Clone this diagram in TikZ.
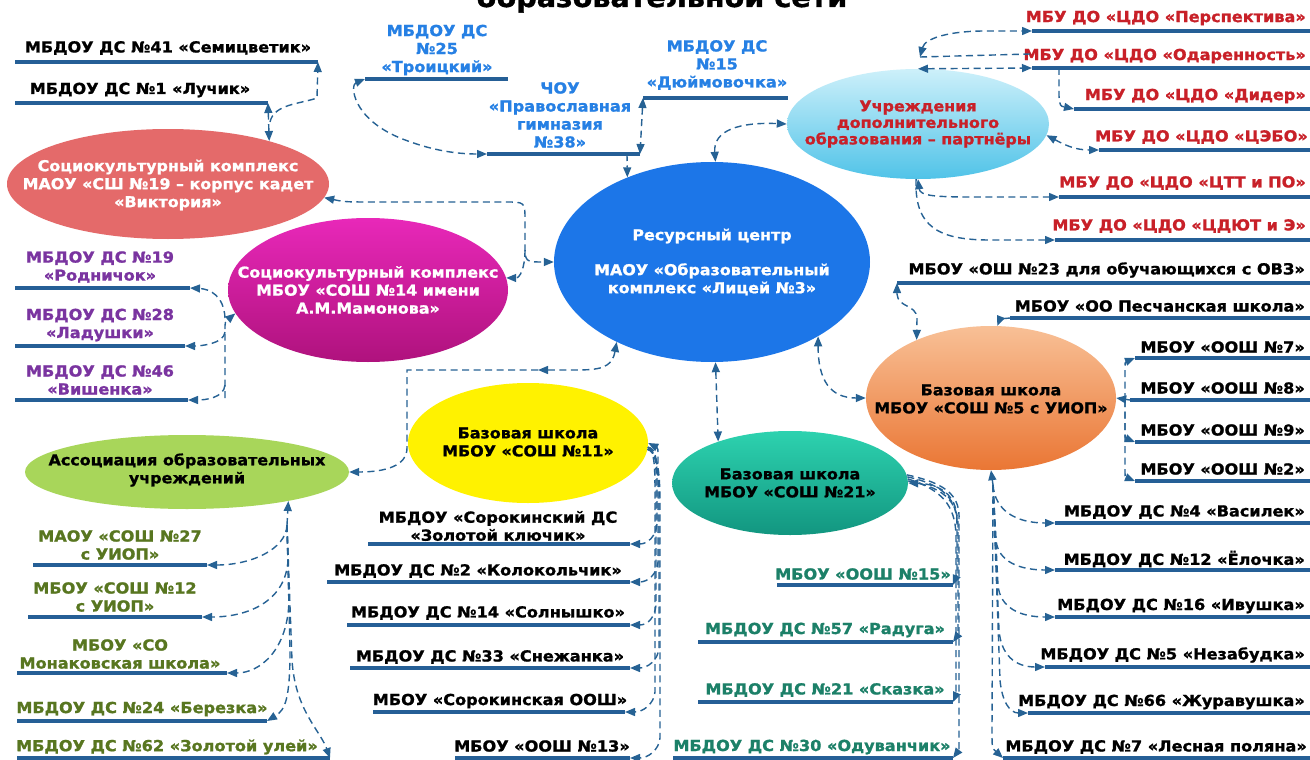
\documentclass[tikz,border=0pt]{standalone}
\usepackage{fontspec}
\newfontfamily\labfont{DejaVu Sans}[FakeStretch=1.06,FakeBold=1.2]
\usetikzlibrary{shapes.geometric,arrows.meta}
\definecolor{cblue}{RGB}{38,98,148}
\definecolor{ulcol}{RGB}{37,95,150}
\definecolor{rcblue}{RGB}{28,118,232}
\definecolor{kadred}{RGB}{228,106,106}
\definecolor{purp}{RGB}{122,52,160}
\definecolor{lblue}{RGB}{38,128,228}
\definecolor{dred}{RGB}{200,32,40}
\definecolor{olive}{RGB}{88,118,32}
\definecolor{tealtx}{RGB}{28,128,104}
\tikzset{
  conn/.style={draw=cblue, line width=1.4pt, dash pattern=on 7pt off 4.5pt},
  >={Triangle[length=10pt,width=8pt]},
  uline/.style={draw=ulcol, line width=3.2pt},
  lab/.style={font=\labfont\bfseries\fontsize{15.2}{18}\selectfont, align=center, inner sep=0pt},
  ell/.style={ellipse, inner sep=0pt, draw=none},
  etext/.style={font=\labfont\bfseries\fontsize{15}{18}\selectfont, align=center, inner sep=0pt},
}
\newcommand\ulab[8]{%
  \coordinate (#1-l) at (#3,#5);
  \coordinate (#1-r) at (#4,#5);
  \draw[uline] (#1-l) -- (#1-r);
  \node[lab,text=#2,#6] (#1) at (#7) {#8};}
\begin{document}
\begin{tikzpicture}[x=1pt,y=-1pt]
\useasboundingbox (0,0) rectangle (1310,760);
\clip (0,0) rectangle (1310,760);
\fill[white] (0,0) rectangle (1310,760);
\node[font=\labfont\bfseries\fontsize{27}{30}\selectfont, anchor=base] (title) at (662,7) {образовательной сети};

% ellipses
\node[ell, minimum width=316pt, minimum height=200pt, fill=rcblue] (rc) at (712,262) {};
\node[etext, text=white] (rc-t) at (712,262) {Ресурсный центр\\[17pt]МАОУ «Образовательный\\комплекс «Лицей №3»};
\node[ell, minimum width=322pt, minimum height=110pt, fill=kadred] (kad) at (168,184) {};
\node[etext, text=white] (kad-t) at (168,185) {Социокультурный комплекс\\МАОУ «СШ №19 – корпус кадет\\«Виктория»};
\node[ell, minimum width=280pt, minimum height=144pt, top color={rgb,255:red,232;green,40;blue,185}, bottom color={rgb,255:red,175;green,18;blue,125}] (s14) at (368,290) {};
\node[etext, text=white] (s14-t) at (368,290) {Социокультурный комплекс\\МБОУ «СОШ №14 имени\\А.М.Мамонова»};
\node[ell, minimum width=240pt, minimum height=120pt, fill={rgb,255:red,255;green,242;blue,0}] (b11) at (528,443) {};
\node[etext, text=black] (b11-t) at (528,442) {Базовая школа\\МБОУ «СОШ №11»};
\node[ell, minimum width=236pt, minimum height=104pt, top color={rgb,255:red,45;green,210;blue,175}, bottom color={rgb,255:red,18;green,150;blue,128}] (b21) at (790,483) {};
\node[etext, text=black] (b21-t) at (790,483) {Базовая школа\\МБОУ «СОШ №21»};
\node[ell, minimum width=250pt, minimum height=144pt, top color={rgb,255:red,248;green,192;blue,150}, bottom color={rgb,255:red,234;green,118;blue,52}] (b5) at (991,398) {};
\node[etext, text=black] (b5-t) at (991,399) {Базовая школа\\МБОУ «СОШ №5 с УИОП»};
\node[ell, minimum width=324pt, minimum height=74pt, fill={rgb,255:red,168;green,214;blue,90}] (assoc) at (187,472) {};
\node[etext, text=black] (assoc-t) at (187,470) {Ассоциация образовательных\\учреждений};
\node[ell, minimum width=262pt, minimum height=110pt, top color={rgb,255:red,205;green,240;blue,250}, bottom color={rgb,255:red,80;green,195;blue,232}] (dop) at (918,124) {};
\node[etext, text=dred, font=\labfont\bfseries\fontsize{15}{16.5}\selectfont] (dop-t) at (918,124) {Учреждения\\дополнительного\\образования – партнёры};

% labels
\ulab{L41}{black}{15}{318}{62}{}{168,48}{МБДОУ ДС №41 «Семицветик»}
\ulab{L1}{black}{15}{268}{103}{}{140,90}{МБДОУ ДС №1 «Лучик»}
\ulab{L19}{purp}{15}{190}{288}{}{100,267}{МБДОУ ДС №19\\«Родничок»}
\ulab{L28}{purp}{15}{185}{346}{}{100,325}{МБДОУ ДС №28\\«Ладушки»}
\ulab{L46}{purp}{15}{188}{400}{}{100,380}{МБДОУ ДС №46\\«Вишенка»}
\ulab{L25}{lblue}{365}{508}{79}{}{437,50}{МБДОУ ДС\\№25\\«Троицкий»}
\ulab{LCH}{lblue}{487}{640}{154}{}{560,115}{ЧОУ\\«Православная\\гимназия\\№38»}
\ulab{L15}{lblue}{643}{788}{98}{}{717,65}{МБДОУ ДС\\№15\\«Дюймовочка»}
\ulab{LP}{dred}{1032}{1310}{31}{anchor=east}{1306,18}{МБУ ДО «ЦДО «Перспектива»}
\ulab{LO}{dred}{1032}{1310}{68}{anchor=east}{1306,56}{МБУ ДО «ЦДО «Одаренность»}
\ulab{LD}{dred}{1074}{1310}{109}{anchor=east}{1306,96}{МБУ ДО «ЦДО «Дидер»}
\ulab{LE}{dred}{1099}{1310}{150}{anchor=east}{1308,137}{МБУ ДО «ЦДО «ЦЭБО»}
\ulab{LT}{dred}{1059}{1310}{197}{anchor=east}{1306,183}{МБУ ДО «ЦДО «ЦТТ и ПО»}
\ulab{LY}{dred}{1055}{1310}{240}{anchor=east}{1306,226}{МБУ ДО «ЦДО «ЦДЮТ и Э»}
\ulab{LOVZ}{black}{897}{1310}{283}{anchor=east}{1305,270}{МБОУ «ОШ №23 для обучающихся с ОВЗ»}
\ulab{LPes}{black}{1010}{1310}{318}{anchor=east}{1305,306}{МБОУ «ОО Песчанская школа»}
\ulab{L7}{black}{1135}{1310}{358}{anchor=east}{1305,347}{МБОУ «ООШ №7»}
\ulab{L8}{black}{1130}{1310}{400}{anchor=east}{1305,388}{МБОУ «ООШ №8»}
\ulab{L9}{black}{1135}{1310}{442}{anchor=east}{1305,430}{МБОУ «ООШ №9»}
\ulab{L2}{black}{1135}{1310}{481}{anchor=east}{1305,469}{МБОУ «ООШ №2»}
\ulab{LV4}{black}{1055}{1310}{523}{anchor=east}{1305,512}{МБДОУ ДС №4 «Василек»}
\ulab{LE12}{black}{1055}{1310}{570}{anchor=east}{1305,559}{МБДОУ ДС №12 «Ёлочка»}
\ulab{LI16}{black}{1055}{1310}{617}{anchor=east}{1305,606}{МБДОУ ДС №16 «Ивушка»}
\ulab{LN5}{black}{1045}{1310}{667}{anchor=east}{1305,655}{МБДОУ ДС №5 «Незабудка»}
\ulab{LZh}{black}{1028}{1310}{713}{anchor=east}{1305,702}{МБДОУ ДС №66 «Журавушка»}
\ulab{LLP}{black}{1003}{1310}{758}{anchor=east}{1307,747}{МБДОУ ДС №7 «Лесная поляна»}
\ulab{LT15}{tealtx}{777}{953}{585}{}{863,574}{МБОУ «ООШ №15»}
\ulab{LT57}{tealtx}{698}{953}{642}{}{825,630}{МБДОУ ДС №57 «Радуга»}
\ulab{LT21}{tealtx}{698}{953}{702}{}{825,690}{МБДОУ ДС №21 «Сказка»}
\ulab{LT30}{tealtx}{673}{953}{758}{}{812,747}{МБДОУ ДС №30 «Одуванчик»}
\ulab{LZK}{black}{368}{630}{544}{}{498,526}{МБДОУ «Сорокинский ДС\\«Золотой ключик»}
\ulab{LK2}{black}{327}{630}{582}{}{478,571}{МБДОУ ДС №2 «Колокольчик»}
\ulab{LS14}{black}{347}{630}{625}{}{488,613}{МБДОУ ДС №14 «Солнышко»}
\ulab{LS33}{black}{350}{630}{668}{}{490,657}{МБДОУ ДС №33 «Снежанка»}
\ulab{LSO}{black}{373}{625}{712}{}{500,701}{МБОУ «Сорокинская ООШ»}
\ulab{L13}{black}{455}{630}{758}{}{542,746}{МБОУ «ООШ №13»}
\ulab{LA27}{olive}{33}{207}{565}{}{120,545}{МАОУ «СОШ №27\\с УИОП»}
\ulab{LA12}{olive}{28}{202}{617}{}{115,597}{МБОУ «СОШ №12\\с УИОП»}
\ulab{LAM}{olive}{17}{227}{673}{}{120,654}{МБОУ «СО\\Монаковская школа»}
\ulab{LA24}{olive}{17}{267}{721}{}{142,709}{МБДОУ ДС №24 «Березка»}
\ulab{LA62}{olive}{17}{330}{758}{}{167,747}{МБДОУ ДС №62 «Золотой улей»}

% connector junctions
\coordinate (j1) at (270,122);
\coordinate (j2) at (525,250);
\coordinate (j3) at (225,318);
\coordinate (j4) at (225,332);
\coordinate (j5) at (225,385);
\coordinate (j6) at (225,398);
\coordinate (chd) at (627,154);
\coordinate (dt1) at (920,57);
\coordinate (LOt) at (1030,54);
\coordinate (LOd) at (1059,68);
\coordinate (br5) at (1125,400);
\coordinate (t5) at (993,485);
\coordinate (t21) at (957,520);
\coordinate (m11) at (538,370);
\coordinate (t11) at (658,475);
\coordinate (ta) at (287,525);

% top-left
\draw[conn,<->] (L1-r) -- (kad.23);
\draw[conn,->] (j1) .. controls (274,104) and (300,104) .. (317,98) -- (L41-r);
% red - centre - magenta
\draw[conn,<->] (kad.-5) .. controls (345,202) .. (380,202) -- (505,202) .. controls (525,202) .. (525,220) -- (525,244) .. controls (525,262) .. (rc.180);
\draw[conn,->] (j2) .. controls (525,268) and (520,278) .. (s14.5);
% magenta - purple
\draw[conn,->] (j6) -- (225,330) .. controls (225,322) .. (s14.190);
\draw[conn,->] (j3) .. controls (224,296) and (210,289) .. (L19-r);
\draw[conn,->] (j4) .. controls (224,344) and (200,346) .. (L28-r);
\draw[conn,->] (j5) .. controls (224,398) and (205,400) .. (L46-r);
% top blue
\draw[conn,<->] (L25-l) .. controls (350,85) and (352,118) .. (400,138) .. controls (430,150) and (455,154) .. (LCH-l);
\draw[conn,<->] (L15-l) -- (LCH-r);
\draw[conn,->] (chd) -- (rc.135);
\draw[conn,<->] (rc.88) .. controls (713,130) and (740,122) .. (dop.180);
% additional education
\draw[conn,<->] (dt1) .. controls (925,38) and (950,31) .. (985,31) -- (LP-l);
\draw[conn] (dt1) -- (LOt);
\draw[conn,<->] (dop.north) -- (LO-l);
\draw[conn,->] (LOd) -- (1059,96) .. controls (1060,106) .. (LD-l);
\draw[conn,<->] (dop.-5) .. controls (1065,145) and (1075,150) .. (LE-l);
\draw[conn,<->] (dop.-90) .. controls (920,196) and (935,197) .. (975,197) -- (LT-l);
\draw[conn,->] (dop.-92) .. controls (914,228) and (940,240) .. (990,240) -- (LY-l);
% centre - base 5
\draw[conn,<->] (rc.-35) .. controls (818,380) and (830,398) .. (b5.180);
\draw[conn,<->] (LOVZ-l) -- (897,294) .. controls (898,308) and (916,304) .. (917,318) -- (b5.142);
\draw[conn,->] (LPes-l) .. controls (1000,319) .. (b5.85);
\draw[conn,->] (L8-l) -- (b5.0);
\draw[conn,->] (br5) -- (1125,372) .. controls (1125,362) .. (L7-l);
\draw[conn,->] (br5) -- (1125,430) .. controls (1125,438) .. (L9-l);
\draw[conn,->] (br5) -- (1125,468) .. controls (1125,477) .. (L2-l);
\draw[conn,->] (t5) -- (b5.-90);
\draw[conn,->] (t5) .. controls (995,510) and (1015,523) .. (LV4-l);
\draw[conn,->] (t5) -- (996,540) .. controls (998,562) and (1020,570) .. (LE12-l);
\draw[conn,->] (t5) -- (998,585) .. controls (1000,608) and (1020,617) .. (LI16-l);
\draw[conn,->] (t5) -- (999,630) .. controls (1001,655) and (1015,667) .. (LN5-l);
\draw[conn,->] (t5) -- (1000,680) .. controls (1002,702) and (1010,713) .. (LZh-l);
\draw[conn,->] (t5) -- (992,730) .. controls (992,748) .. (LLP-l);
% centre - base 21
\draw[conn,<->] (rc.-88) -- (b21.150);
\draw[conn,->] (t21) .. controls (957,495) and (940,484) .. (b21.0);
\draw[conn,->] (b21.3) .. controls (945,485) and (957,500) .. (957,525) -- (957,565) .. controls (957,575) .. (LT15-r);
\draw[conn,->] (b21.1) .. controls (948,488) and (959,505) .. (958,530) -- (958,625) .. controls (958,635) .. (LT57-r);
\draw[conn,->] (b21.2) .. controls (942,490) and (955,505) .. (956,535) -- (956,685) .. controls (956,695) .. (LT21-r);
\draw[conn,->] (b21.4) .. controls (950,484) and (960,498) .. (959,520) -- (959,740) .. controls (959,750) .. (LT30-r);
% centre - base 11 - association
\draw[conn,<->] (rc.220) .. controls (612,368) and (600,370) .. (575,370) -- (m11);
\draw[conn,->] (m11) -- (407,370) -- (407,448) .. controls (407,466) and (385,472) .. (assoc.0);
\draw[conn,->] (t11) -- (658,460) .. controls (658,448) .. (b11.0);
\draw[conn,->] (b11.-2) .. controls (656,448) and (657,460) .. (657,480) -- (657,524) .. controls (656,536) and (648,544) .. (LZK-r);
\draw[conn,->] (b11.-3) .. controls (655,450) and (658,462) .. (658,485) -- (658,562) .. controls (657,574) and (648,582) .. (LK2-r);
\draw[conn,->] (b11.-2) .. controls (657,452) and (656,465) .. (656,490) -- (656,605) .. controls (655,617) and (648,625) .. (LS14-r);
\draw[conn,->] (b11.-3) .. controls (656,452) and (659,466) .. (659,495) -- (659,648) .. controls (658,660) and (648,668) .. (LS33-r);
\draw[conn,->] (b11.-2) .. controls (655,452) and (655,468) .. (655,500) -- (655,692) .. controls (654,704) and (643,712) .. (LSO-r);
\draw[conn,->] (b11.-3) .. controls (657,452) and (660,468) .. (660,505) -- (660,738) .. controls (659,750) and (648,758) .. (L13-r);
% association
\draw[conn,->] (ta) -- (assoc.-16);
\draw[conn,->] (ta) .. controls (286,550) and (250,565) .. (LA27-r);
\draw[conn,->] (ta) -- (288,560) .. controls (286,600) and (250,617) .. (LA12-r);
\draw[conn,->] (ta) -- (289,600) .. controls (288,650) and (260,673) .. (LAM-r);
\draw[conn,->] (ta) -- (290,650) .. controls (290,700) and (285,710) .. (LA24-r);
\draw[conn,->] (ta) -- (292,660) .. controls (295,710) and (320,730) .. (LA62-r);
\end{tikzpicture}
\end{document}
